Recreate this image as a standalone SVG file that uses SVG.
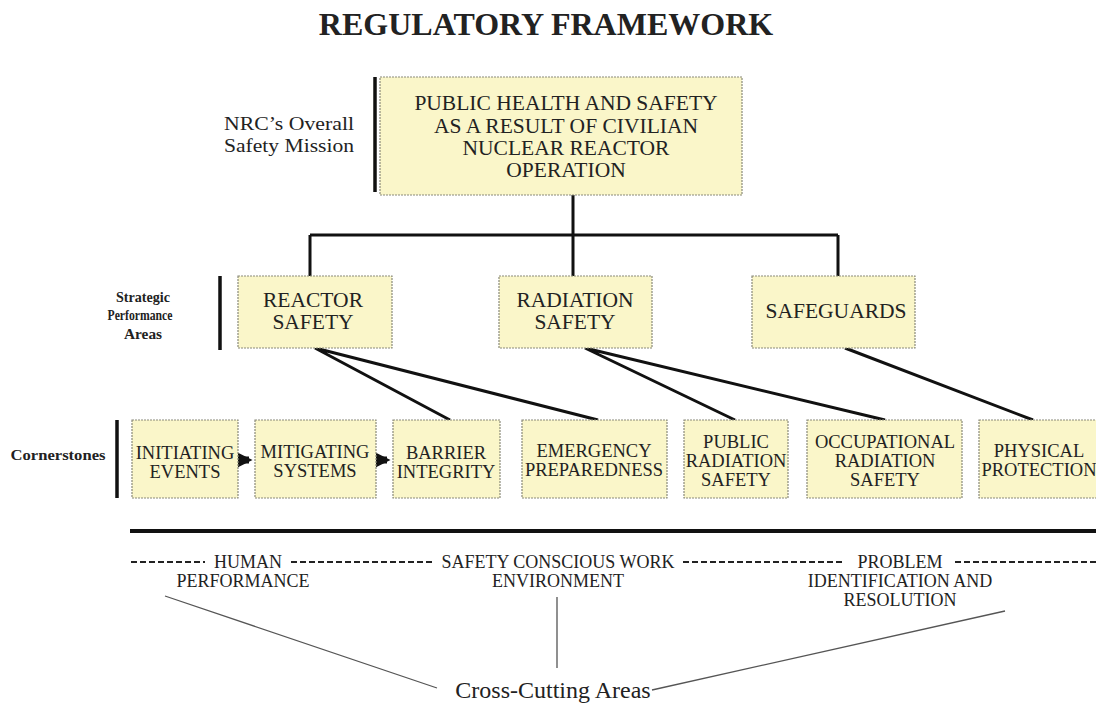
<svg xmlns="http://www.w3.org/2000/svg" width="1096" height="704" viewBox="0 0 1096 704">
<defs>
<style>
.box{fill:#faf6c9;stroke:#8a8a7a;stroke-width:1.2;stroke-dasharray:2 1}
.t{font-family:"Liberation Serif",serif;fill:#222;text-anchor:middle}
.big{font-size:21.5px}
.mid{font-size:18.5px}
.cc{font-size:18px}
.bar{stroke:#111;stroke-width:3.5}
.con{stroke:#111;stroke-width:3;fill:none}
.thin{stroke:#555;stroke-width:1.3;fill:none}
.dash{stroke:#222;stroke-width:1.8;stroke-dasharray:6 3;fill:none}
</style>
<marker id="ah" markerWidth="3" markerHeight="3" refX="2.5" refY="1.5" orient="auto" markerUnits="strokeWidth">
<path d="M0,0 L3,1.5 L0,3 z" fill="#111"/>
</marker>
</defs>
<rect width="1096" height="704" fill="#fff"/>
<text x="546" y="35" class="t" style="font-size:32px;font-weight:bold">REGULATORY FRAMEWORK</text>

<g id="labels">
<line class="bar" x1="375" y1="77" x2="375" y2="192"/>
<text class="t" x="289" y="130" style="font-size:19px" textLength="130" lengthAdjust="spacingAndGlyphs">NRC’s Overall</text>
<text class="t" x="289" y="152" style="font-size:19px" textLength="130" lengthAdjust="spacingAndGlyphs">Safety Mission</text>
<line class="bar" x1="220" y1="276" x2="220" y2="350"/>
<text class="t" x="143" y="302" style="font-size:14px;font-weight:bold" textLength="54" lengthAdjust="spacingAndGlyphs">Strategic</text>
<text class="t" x="140" y="320" style="font-size:14px;font-weight:bold" textLength="65" lengthAdjust="spacingAndGlyphs">Performance</text>
<text class="t" x="143" y="339" style="font-size:14px;font-weight:bold" textLength="38" lengthAdjust="spacingAndGlyphs">Areas</text>
<line class="bar" x1="117" y1="420" x2="117" y2="498"/>
<text class="t" x="58" y="460" style="font-size:14px;font-weight:bold" textLength="95" lengthAdjust="spacingAndGlyphs">Cornerstones</text>
</g>

<g id="connectors">
<path class="con" d="M573,195 V235 M310,235 H838 M310,235 V276 M573,235 V276 M838,235 V276"/>
<path class="con" d="M315,348 L450,420 M315,348 L598,420 M585,348 L735,420 M585,348 L885,420 M845,348 L1033,420"/>
<line x1="239" y1="460" x2="249" y2="460" stroke="#111" stroke-width="7" marker-end="url(#ah)"/>
<line x1="377" y1="460" x2="387" y2="460" stroke="#111" stroke-width="7" marker-end="url(#ah)"/>
</g>

<g id="mission">
<rect class="box" x="380" y="77" width="362" height="118"/>
<text class="t big" x="566" y="110">PUBLIC HEALTH AND SAFETY</text>
<text class="t big" x="566" y="133">AS A RESULT OF CIVILIAN</text>
<text class="t big" x="566" y="155">NUCLEAR REACTOR</text>
<text class="t big" x="566" y="177">OPERATION</text>
</g>
<g id="reactor-safety">
<rect class="box" x="238" y="276" width="154" height="72"/>
<text class="t big" x="313" y="307">REACTOR</text>
<text class="t big" x="313" y="329">SAFETY</text>
</g>
<g id="radiation-safety">
<rect class="box" x="499" y="276" width="153" height="72"/>
<text class="t big" x="575" y="307">RADIATION</text>
<text class="t big" x="575" y="329">SAFETY</text>
</g>
<g id="safeguards">
<rect class="box" x="752" y="276" width="163" height="72"/>
<text class="t big" x="836" y="318">SAFEGUARDS</text>
</g>

<g id="initiating-events">
<rect class="box" x="132" y="420" width="106" height="78"/>
<text class="t mid" x="185" y="459">INITIATING</text>
<text class="t mid" x="185" y="478">EVENTS</text>
</g>
<g id="mitigating-systems">
<rect class="box" x="255" y="420" width="121" height="78"/>
<text class="t mid" x="315" y="458">MITIGATING</text>
<text class="t mid" x="315" y="477">SYSTEMS</text>
</g>
<g id="barrier-integrity">
<rect class="box" x="393" y="420" width="107" height="78"/>
<text class="t mid" x="446" y="459">BARRIER</text>
<text class="t mid" x="446" y="478">INTEGRITY</text>
</g>
<g id="emergency-preparedness">
<rect class="box" x="522" y="420" width="145" height="78"/>
<text class="t mid" x="594" y="457">EMERGENCY</text>
<text class="t mid" x="594" y="476">PREPAREDNESS</text>
</g>
<g id="public-radiation-safety">
<rect class="box" x="684" y="420" width="104" height="78"/>
<text class="t mid" x="736" y="448">PUBLIC</text>
<text class="t mid" x="736" y="467">RADIATION</text>
<text class="t mid" x="736" y="486">SAFETY</text>
</g>
<g id="occupational-radiation-safety">
<rect class="box" x="807" y="420" width="155" height="78"/>
<text class="t mid" x="885" y="448">OCCUPATIONAL</text>
<text class="t mid" x="885" y="467">RADIATION</text>
<text class="t mid" x="885" y="486">SAFETY</text>
</g>
<g id="physical-protection">
<rect class="box" x="979" y="420" width="125" height="78"/>
<text class="t mid" x="1039" y="457">PHYSICAL</text>
<text class="t mid" x="1039" y="476">PROTECTION</text>
</g>

<g id="cross-cutting">
<line x1="130" y1="531" x2="1096" y2="531" stroke="#111" stroke-width="4"/>
<path class="dash" d="M131,562 H205 M291,562 H432 M683,562 H845 M955,562 H1096"/>
<text class="t cc" x="248" y="568">HUMAN</text>
<text class="t cc" x="243" y="587">PERFORMANCE</text>
<text class="t cc" x="558" y="568">SAFETY CONSCIOUS WORK</text>
<text class="t cc" x="558" y="587">ENVIRONMENT</text>
<text class="t cc" x="900" y="568">PROBLEM</text>
<text class="t cc" x="900" y="587">IDENTIFICATION AND</text>
<text class="t cc" x="900" y="606">RESOLUTION</text>
<path class="thin" d="M165,596 L437,688 M557,597 V668 M1005,611 L652,690"/>
<text class="t" x="553" y="698" style="font-size:24px">Cross-Cutting Areas</text>
</g>
</svg>
